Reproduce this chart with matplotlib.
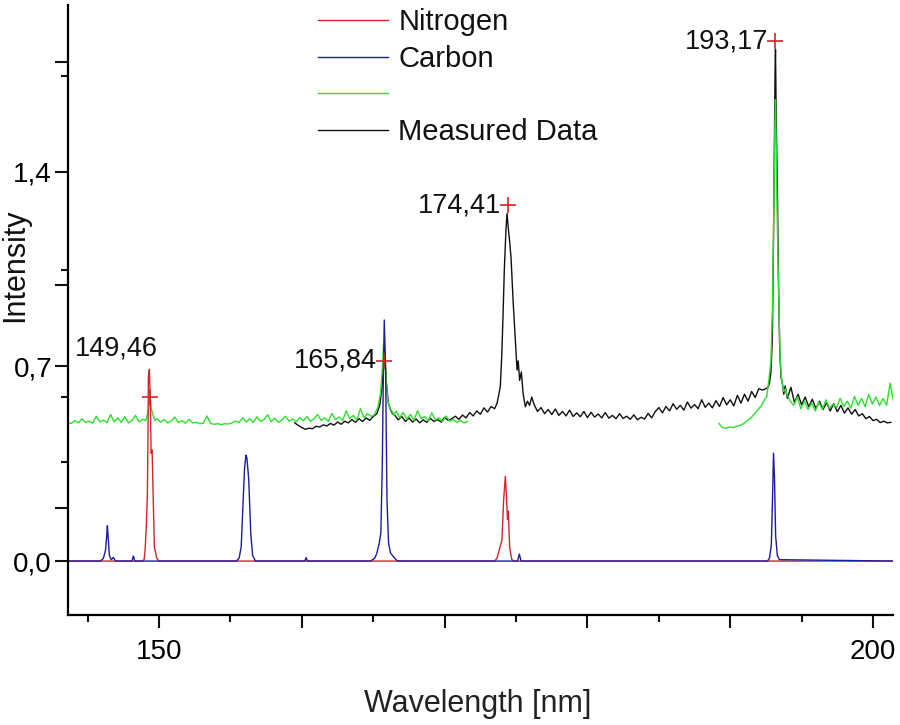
import numpy as np
import matplotlib
matplotlib.use("Agg")
import matplotlib.pyplot as plt

plt.rcParams['font.family'] = ['Liberation Sans', 'DejaVu Sans']

# ---------------- data ----------------
# Green trace, left part: baseline samples every 0.25 nm starting at 143.6 nm
green_left_start, green_left_step = 143.6, 0.25
green_left_y = [
    0.498, 0.495, 0.505, 0.497, 0.512, 0.499, 0.503, 0.496, 0.521, 0.500,
    0.507, 0.498, 0.527, 0.501, 0.515, 0.499, 0.519, 0.497, 0.506, 0.524,
    0.500, 0.510, 0.505, 0.505, 0.505, 0.512, 0.500, 0.509, 0.497, 0.503,
    0.518, 0.498, 0.505, 0.496, 0.510, 0.497, 0.499, 0.494, 0.496, 0.522,
    0.495, 0.492, 0.494, 0.491, 0.494, 0.493, 0.497, 0.503, 0.499, 0.515,
    0.500, 0.512, 0.498, 0.519, 0.502, 0.509, 0.526, 0.501, 0.514, 0.499,
    0.507, 0.521, 0.503, 0.511, 0.500, 0.516, 0.505, 0.520, 0.503, 0.512,
    0.527, 0.506, 0.515, 0.502, 0.531, 0.509, 0.518, 0.505, 0.540, 0.512,
    0.524, 0.508, 0.548, 0.516, 0.530, 0.520, 0.525, 0.525, 0.525, 0.525,
    0.525, 0.525, 0.540, 0.515, 0.535, 0.510, 0.528, 0.506, 0.541, 0.512,
    0.520, 0.504, 0.533, 0.508, 0.515, 0.501, 0.522, 0.503, 0.509, 0.498,
    0.506, 0.497, 0.502,
]
# green peaks (x, y) replacing the baseline inside their windows
green_peak1_x = [149.05, 149.2, 149.3, 149.38, 149.45, 149.55, 149.7]
green_peak1_y = [0.505, 0.530, 0.560, 0.585, 0.550, 0.530, 0.505]
green_peak2_x = [165.05, 165.3, 165.5, 165.62, 165.72, 165.8, 165.9, 166.0, 166.15, 166.3, 166.45]
green_peak2_y = [0.525, 0.550, 0.600, 0.680, 0.780, 0.760, 0.660, 0.580, 0.550, 0.540, 0.525]

# Green trace, right part: every 0.25 nm starting at 189.2 nm
green_right_start, green_right_step = 189.2, 0.25
green_right_y = [
    0.495, 0.480, 0.478, 0.482, 0.480, 0.485, 0.488, 0.495, 0.505, 0.515,
    0.530, 0.545, 0.560, 0.585, 0.600, 0.600, 0.600, 0.600, 0.600, 0.600,
    0.575, 0.560, 0.590, 0.548, 0.575, 0.545, 0.568, 0.540, 0.572, 0.545,
    0.580, 0.550, 0.565, 0.552, 0.585, 0.556, 0.575, 0.550, 0.592, 0.560,
    0.585, 0.555, 0.600, 0.565, 0.590, 0.560, 0.585, 0.560, 0.640, 0.570,
]
green_peak3_x = [192.55, 192.7, 192.85, 192.95, 193.05, 193.12, 193.17, 193.22, 193.3, 193.4, 193.5, 193.6, 193.75, 193.88]
green_peak3_y = [0.590, 0.650, 0.720, 0.900, 1.250, 1.550, 1.660, 1.500, 1.200, 0.950, 0.720, 0.650, 0.610, 0.620]

# Measured data (black): every 0.25 nm starting at 159.5 nm
measured_start, measured_step = 159.5, 0.25
measured_y = [
    0.497, 0.488, 0.480, 0.474, 0.478, 0.476, 0.485, 0.482, 0.490, 0.486,
    0.495, 0.489, 0.500, 0.492, 0.503, 0.497, 0.509, 0.499, 0.512, 0.502,
    0.515, 0.506, 0.520, 0.530, 0.530, 0.530, 0.530, 0.530, 0.525, 0.508,
    0.520, 0.502, 0.515, 0.500, 0.511, 0.497, 0.508, 0.499, 0.513, 0.502,
    0.509, 0.500, 0.517, 0.506, 0.512, 0.521, 0.510, 0.525, 0.515, 0.534,
    0.522, 0.540, 0.528, 0.551, 0.536, 0.556, 0.560, 0.560, 0.560, 0.560,
    0.560, 0.560, 0.560, 0.560, 0.560, 0.560, 0.560, 0.560, 0.538, 0.552,
    0.530, 0.545, 0.527, 0.547, 0.524, 0.538, 0.522, 0.543, 0.520, 0.533,
    0.519, 0.538, 0.516, 0.535, 0.518, 0.529, 0.515, 0.534, 0.514, 0.524,
    0.512, 0.530, 0.513, 0.521, 0.510, 0.526, 0.508, 0.517, 0.511, 0.531,
    0.515, 0.538, 0.552, 0.533, 0.556, 0.540, 0.566, 0.546, 0.560, 0.543,
    0.572, 0.550, 0.563, 0.548, 0.580, 0.553, 0.568, 0.551, 0.577, 0.556,
    0.588, 0.562, 0.580, 0.558, 0.596, 0.568, 0.600, 0.575, 0.610, 0.588,
    0.620, 0.615, 0.620, 0.620, 0.620, 0.620, 0.620, 0.610, 0.585, 0.625,
    0.570, 0.600, 0.562, 0.590, 0.555, 0.582, 0.548, 0.575, 0.545, 0.570,
    0.540, 0.566, 0.537, 0.560, 0.532, 0.551, 0.528, 0.545, 0.522, 0.530,
    0.512, 0.520, 0.505, 0.510, 0.498, 0.503, 0.497, 0.499,
]
measured_peak1_x = [165.25, 165.45, 165.6, 165.72, 165.82, 165.92, 166.05, 166.2, 166.35]
measured_peak1_y = [0.530, 0.560, 0.620, 0.700, 0.720, 0.640, 0.570, 0.545, 0.530]
measured_peak2_x = [173.5, 173.67, 173.8, 173.9, 174.0, 174.08, 174.18, 174.3, 174.37, 174.45,
                    174.55, 174.65, 174.8, 174.95, 175.07, 175.15, 175.25, 175.37, 175.5,
                    175.65, 175.8, 175.95, 176.1, 176.25]
measured_peak2_y = [0.548, 0.568, 0.600, 0.630, 0.740, 0.870, 1.050, 1.200, 1.250, 1.200,
                    1.150, 1.090, 0.930, 0.795, 0.687, 0.720, 0.650, 0.680, 0.600,
                    0.555, 0.575, 0.560, 0.590, 0.565]
measured_peak3_x = [192.65, 192.75, 192.85, 192.95, 193.02, 193.08, 193.14, 193.17, 193.22,
                    193.3, 193.38, 193.47, 193.56, 193.65, 193.75, 193.85]
measured_peak3_y = [0.625, 0.640, 0.680, 0.800, 1.100, 1.450, 1.760, 1.840, 1.600,
                    1.350, 1.000, 0.750, 0.660, 0.640, 0.600, 0.630]

# Nitrogen reference spectrum
nitrogen_x = [143.6, 148.8, 148.95, 149.02, 149.1, 149.18, 149.22, 149.25, 149.32, 149.36,
              149.39, 149.44, 149.51, 149.58, 149.67, 149.84, 150.0,
              173.5, 173.66, 174.01, 174.13, 174.25, 174.33, 174.40, 174.46, 174.55,
              174.7, 174.9, 201.5]
nitrogen_y = [0.0, 0.0, 0.005, 0.04, 0.12, 0.244, 0.45, 0.663, 0.69, 0.62,
              0.568, 0.388, 0.40, 0.244, 0.05, 0.01, 0.0,
              0.0, 0.01, 0.075, 0.22, 0.305, 0.23, 0.15, 0.18, 0.05,
              0.005, 0.0, 0.0]

# Carbon reference spectrum
carbon_x = [143.6, 145.9, 146.1, 146.25, 146.33, 146.38, 146.44, 146.52, 146.65, 146.8,
            146.95, 148.1, 148.2, 148.3,
            155.4, 155.6, 155.75, 155.87, 155.98, 156.08, 156.15, 156.22, 156.28, 156.42,
            156.55, 156.75, 160.2, 160.3, 160.4,
            164.8, 165.1, 165.25, 165.4, 165.53, 165.63, 165.7, 165.77, 165.86, 165.96,
            166.07, 166.2, 166.42, 166.7,
            175.1, 175.23, 175.35,
            192.6, 192.75, 192.88, 192.96, 193.03, 193.1, 193.18, 193.3, 193.45, 201.5]
carbon_y = [0.0, 0.0, 0.01, 0.04, 0.09, 0.127, 0.08, 0.02, 0.005, 0.013,
            0.0, 0.0, 0.018, 0.0,
            0.0, 0.01, 0.05, 0.195, 0.33, 0.381, 0.37, 0.33, 0.29, 0.1,
            0.02, 0.0, 0.0, 0.012, 0.0,
            0.0, 0.01, 0.028, 0.06, 0.1, 0.34, 0.64, 0.867, 0.70, 0.22,
            0.065, 0.03, 0.015, 0.0,
            0.0, 0.025, 0.0,
            0.0, 0.01, 0.06, 0.22, 0.388, 0.3, 0.09, 0.02, 0.005, 0.0]

# Peak markers and their labels
marker_x = [149.37, 165.75, 174.45, 193.17]
marker_y = [0.59, 0.72, 1.28, 1.87]
marker_labels = ["149,46", "165,84", "174,41", "193,17"]

legend_labels = ["Nitrogen", "Carbon", "", "Measured Data"]

x_major = [150, 160, 170, 180, 190, 200]
x_major_labels = ["150", "", "", "", "", "200"]
x_minor = [145, 155, 165, 175, 185, 195]
y_major = [0.0, 0.19, 0.7, 0.994, 1.4, 1.795]
y_major_labels = ["0,0", "", "0,7", "", "1,4", ""]
y_minor = [0.355, 0.589, 1.048, 1.744]

# ---------------- helpers ----------------
def merge(start, step, base, peaks):
    x = start + step * np.arange(len(base))
    y = np.asarray(base, dtype=float)
    keep = np.ones(len(x), dtype=bool)
    for px, _ in peaks:
        keep &= ~((x >= min(px)) & (x <= max(px)))
    xs = list(x[keep])
    ys = list(y[keep])
    for px, py in peaks:
        xs += list(px)
        ys += list(py)
    order = np.argsort(xs)
    return np.asarray(xs)[order], np.asarray(ys)[order]

gl_x, gl_y = merge(green_left_start, green_left_step, green_left_y,
                   [(green_peak1_x, green_peak1_y), (green_peak2_x, green_peak2_y)])
gr_x, gr_y = merge(green_right_start, green_right_step, green_right_y,
                   [(green_peak3_x, green_peak3_y)])
m_x, m_y = merge(measured_start, measured_step, measured_y,
                 [(measured_peak1_x, measured_peak1_y),
                  (measured_peak2_x, measured_peak2_y),
                  (measured_peak3_x, measured_peak3_y)])

# ---------------- figure ----------------
fig = plt.figure(figsize=(9, 7.25), dpi=100)
ax = fig.add_axes([68 / 900, 110 / 725, 825 / 900, 610 / 725])

RED = '#d02828'
BLUE = '#1c1ca0'
GREEN = '#2ee02e'
BLACK = '#101010'
lw = 1.0

h_meas, = ax.plot(m_x, m_y, color=BLACK, lw=lw)
h_green, = ax.plot(gl_x, gl_y, color=GREEN, lw=lw)
ax.plot(gr_x, gr_y, color=GREEN, lw=lw)
h_n, = ax.plot(nitrogen_x, nitrogen_y, color=RED, lw=lw)
h_c, = ax.plot(carbon_x, carbon_y, color=BLUE, lw=lw)

ax.plot(marker_x, marker_y, linestyle='none', marker='+', color=RED,
        markersize=11, markeredgewidth=1.2)
for i, (mx, my, lab) in enumerate(zip(marker_x, marker_y, marker_labels)):
    if i == 0:
        ax.annotate(lab, (mx, my), xytext=(-24, 35), textcoords='offset points',
                    ha='center', va='center', fontsize=19.5, color='#111111')
    else:
        ax.annotate(lab, (mx, my), xytext=(-5, 0), textcoords='offset points',
                    ha='right', va='center', fontsize=19.5, color='#111111')

ax.set_xlim(143.62, 201.4)
ax.set_ylim(-0.194, 2.0)

for s in ['top', 'right']:
    ax.spines[s].set_visible(False)
for s in ['left', 'bottom']:
    ax.spines[s].set_linewidth(1.6)

ax.set_xticks(x_major)
ax.set_xticklabels(x_major_labels)
ax.set_xticks(x_minor, minor=True)
ax.set_yticks(y_major)
ax.set_yticklabels(y_major_labels)
ax.set_yticks(y_minor, minor=True)
ax.tick_params(axis='both', which='major', direction='out', length=9.5, width=1.5,
               labelsize=20, color='#111111')
ax.tick_params(axis='both', which='minor', direction='out', length=5, width=1.5,
               color='#111111')
ax.tick_params(axis='x', which='major', pad=8)
ax.tick_params(axis='y', which='major', pad=2)

ax.set_xlabel("Wavelength [nm]", fontsize=22, color='#222222')
ax.set_ylabel("Intensity", fontsize=22, color='#111111')
ax.xaxis.set_label_coords(0.497, -0.122)
ax.yaxis.set_label_coords(-0.046, 0.574)

leg = ax.legend([h_n, h_c, h_green, h_meas], legend_labels, loc='upper left',
                bbox_to_anchor=(0.303, 0.995), frameon=False, fontsize=21,
                handlelength=2.4, handletextpad=0.35, labelspacing=0.3,
                borderpad=0, borderaxespad=0)
for t in leg.get_texts():
    t.set_color('#111111')

fig.savefig("out.png", dpi=100)
